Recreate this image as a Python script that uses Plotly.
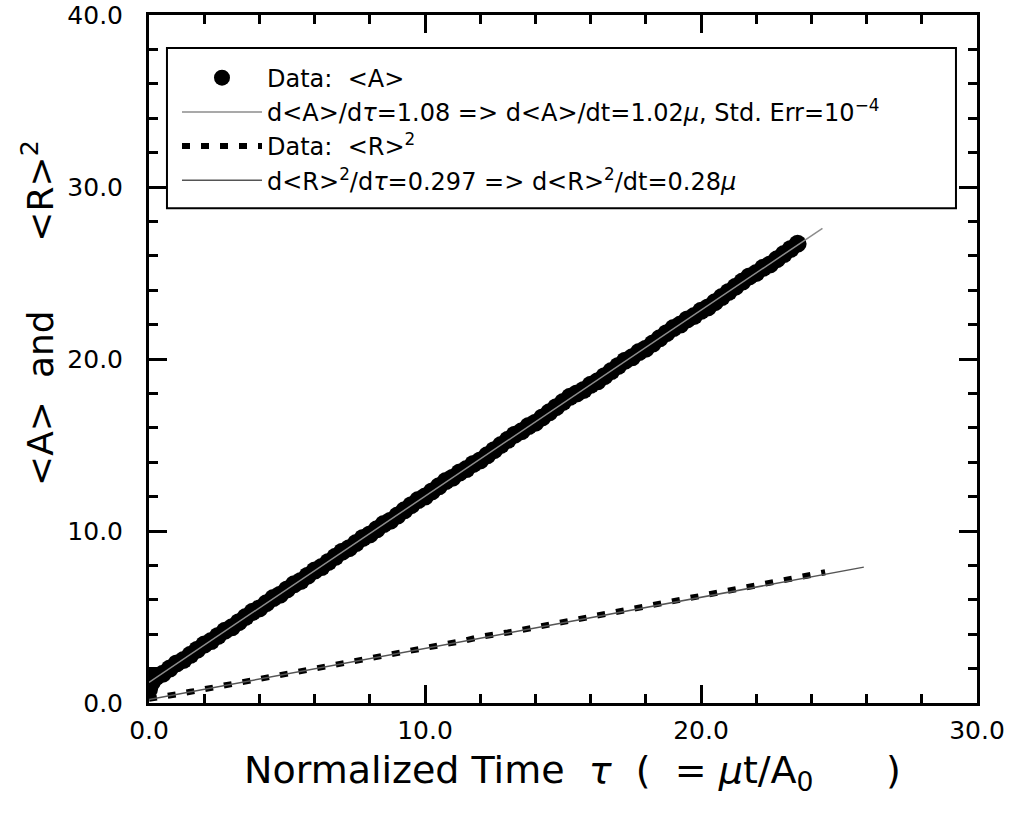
import plotly.graph_objects as go

# ---- data ----
A_x = [0.0, 0.05, 0.1, 0.25, 0.5, 0.75, 1.0, 1.25, 1.5, 1.75, 2.0, 2.25, 2.5, 2.75, 3.0, 3.25, 3.5, 3.75,
       4.0, 4.25, 4.5, 4.75, 5.0, 5.25, 5.5, 5.75, 6.0, 6.25, 6.5, 6.75, 7.0, 7.25, 7.5, 7.75,
       8.0, 8.25, 8.5, 8.75, 9.0, 9.25, 9.5, 9.75, 10.0, 10.25, 10.5, 10.75, 11.0, 11.25, 11.5, 11.75,
       12.0, 12.25, 12.5, 12.75, 13.0, 13.25, 13.5, 13.75, 14.0, 14.25, 14.5, 14.75, 15.0, 15.25, 15.5, 15.75,
       16.0, 16.25, 16.5, 16.75, 17.0, 17.25, 17.5, 17.75, 18.0, 18.25, 18.5, 18.75, 19.0, 19.25, 19.5, 19.75,
       20.0, 20.25, 20.5, 20.75, 21.0, 21.25, 21.5, 21.75, 22.0, 22.25, 22.5, 22.75, 23.0, 23.25, 23.5]
A_y = [0.8, 1.4, 1.2, 1.5, 1.7, 2.0, 2.3, 2.5, 2.8, 3.1, 3.4, 3.6, 3.9, 4.2, 4.4, 4.7, 5.0, 5.3,
       5.5, 5.8, 6.1, 6.3, 6.6, 6.9, 7.1, 7.4, 7.7, 7.9, 8.2, 8.5, 8.8, 9.0, 9.3, 9.6,
       9.8, 10.1, 10.4, 10.6, 10.9, 11.2, 11.5, 11.8, 12.0, 12.3, 12.6, 12.9, 13.1, 13.4, 13.6, 13.9,
       14.1, 14.4, 14.7, 15.0, 15.3, 15.6, 15.8, 16.1, 16.3, 16.6, 16.9, 17.2, 17.5, 17.8, 18.0, 18.2,
       18.5, 18.7, 19.0, 19.3, 19.6, 19.9, 20.1, 20.4, 20.6, 20.9, 21.2, 21.5, 21.8, 22.0, 22.3, 22.5,
       22.8, 23.0, 23.3, 23.6, 23.9, 24.2, 24.5, 24.8, 25.0, 25.3, 25.5, 25.8, 26.1, 26.4, 26.7]

fitA_x = [0.0, 24.4]
fitA_y = [1.2, 27.6]

R_x = [0.0, 0.5, 1.0, 1.5, 2.0, 2.5, 3.0, 3.5, 4.0, 4.5, 5.0, 5.5, 6.0, 6.5, 7.0, 7.5, 8.0, 8.5, 9.0, 9.5,
       10.0, 10.5, 11.0, 11.5, 12.0, 12.5, 13.0, 13.5, 14.0, 14.5, 15.0, 15.5, 16.0, 16.5, 17.0, 17.5,
       18.0, 18.5, 19.0, 19.5, 20.0, 20.5, 21.0, 21.5, 22.0, 22.5, 23.0, 23.5, 24.0, 24.5]
R_y = [0.25, 0.35, 0.5, 0.65, 0.8, 0.95, 1.1, 1.25, 1.4, 1.55, 1.65, 1.85, 2.0, 2.15, 2.3, 2.45, 2.6, 2.75, 2.9, 3.05,
       3.2, 3.35, 3.5, 3.65, 3.85, 3.95, 4.1, 4.25, 4.4, 4.55, 4.7, 4.85, 5.0, 5.15, 5.3, 5.45,
       5.6, 5.75, 5.9, 6.05, 6.2, 6.35, 6.5, 6.65, 6.8, 6.95, 7.1, 7.25, 7.45, 7.6]

fitR_x = [0.0, 25.9]
fitR_y = [0.2, 7.9]

names = [
    "Data:\u00a0\u00a0&lt;A&gt;",
    "d&lt;A&gt;/d<i>τ</i>=1.08 =&gt; d&lt;A&gt;/dt=1.02<i>μ</i>, Std. Err=10<sup>−4</sup>",
    "Data:\u00a0\u00a0&lt;R&gt;<sup>2</sup>",
    "d&lt;R&gt;<sup>2</sup>/d<i>τ</i>=0.297 =&gt; d&lt;R&gt;<sup>2</sup>/dt=0.28<i>μ</i>",
]

x_ticks = [0, 10, 20, 30]
y_ticks = [0, 10, 20, 30, 40]

FONT = "DejaVu Sans"
NB = "\u00a0"

fig = go.Figure()
fig.add_trace(go.Scatter(x=A_x, y=A_y, mode="markers", name=names[0],
                         marker=dict(symbol="circle", size=18, color="black")))
fig.add_trace(go.Scatter(x=fitA_x, y=fitA_y, mode="lines", name=names[1],
                         line=dict(color="#8c8c8c", width=1.5)))
fig.add_trace(go.Scatter(x=R_x, y=R_y, mode="lines", name=names[2],
                         line=dict(color="black", width=6, dash="8px,11px")))
fig.add_trace(go.Scatter(x=fitR_x, y=fitR_y, mode="lines", name=names[3],
                         line=dict(color="#555555", width=1.5)))

axis_common = dict(
    showline=True, linecolor="black", linewidth=3, mirror="ticks",
    ticks="inside", ticklen=18, tickwidth=2.5, tickcolor="black",
    showgrid=False, zeroline=False, tickformat=".1f", automargin=False,
    ticklabeloverflow="allow",
    tickfont=dict(family=FONT, size=25, color="black"),
    minor=dict(ticks="inside", ticklen=9, tickwidth=2.5, tickcolor="black", dtick=2, showgrid=False),
)

fig.update_xaxes(range=[0, 30], tickvals=x_ticks, ticklabelstandoff=3, **axis_common)
fig.update_yaxes(range=[0, 40], tickvals=y_ticks, ticklabelstandoff=18, **axis_common)

fig.update_layout(
    width=1011, height=815,
    margin=dict(l=149, r=34, t=15, b=112),
    plot_bgcolor="white", paper_bgcolor="white",
    font=dict(family=FONT, color="black"),
    showlegend=True,
    legend=dict(x=0.0338, y=0.941, xanchor="left", yanchor="top",
                bgcolor="rgba(0,0,0,0)", borderwidth=0,
                font=dict(family=FONT, size=24, color="black"),
                itemwidth=80, tracegroupgap=0),
    shapes=[dict(type="rect", xref="paper", yref="paper",
                 x0=0.0217, x1=0.9746, y0=0.719, y1=0.952,
                 line=dict(color="black", width=2), fillcolor="white", layer="below")],
    annotations=[
        dict(text="Normalized Time" + NB * 2 + "<i>τ</i>" + NB * 2 + "(" + NB * 2 + "=" + NB
                  + "<i>μ</i>t/A<sub>0</sub>" + NB * 6 + ")",
             xref="paper", yref="paper", x=0.511, y=-0.101, xanchor="center", yanchor="middle",
             showarrow=False, font=dict(family=FONT, size=38, color="black")),
        dict(text="&lt;A&gt;" + NB * 2 + "and" + NB * 6 + "&lt;R&gt;<sup>2</sup>",
             xref="paper", yref="paper", x=-0.134, y=0.567, xanchor="center", yanchor="middle",
             textangle=-90, showarrow=False, font=dict(family=FONT, size=36, color="black")),
    ],
)

fig.write_html("out.html", config={"displayModeBar": False},
               post_script="document.body.style.margin='0';")
